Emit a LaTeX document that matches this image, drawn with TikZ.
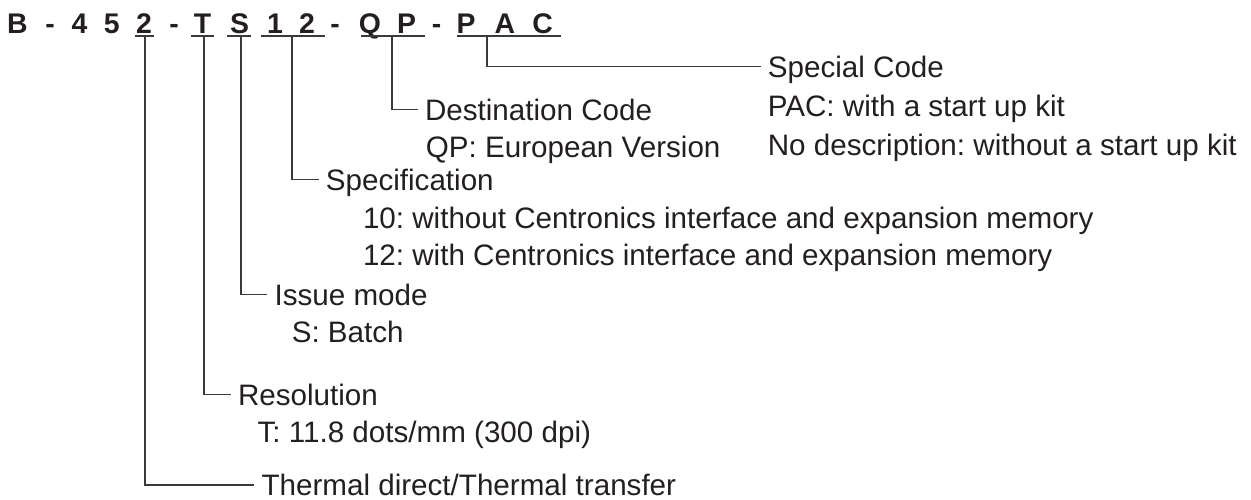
\documentclass[tikz,border=0pt]{standalone}
\usepackage{fontspec}
\setmainfont{Liberation Sans}
\frenchspacing
\definecolor{ink}{HTML}{231F20}
\definecolor{wirec}{HTML}{3A3A3A}
\begin{document}
\begin{tikzpicture}[x=1pt,y=-1pt,
  title/.style={font=\fontsize{28.4}{34}\selectfont\bfseries, text=ink, inner sep=0pt, anchor=base},
  head/.style={font=\fontsize{29.6}{34}\selectfont, text=ink, anchor=base west, inner xsep=7pt, inner ysep=0pt, text height=21.2pt, text depth=0pt},
  desc/.style={font=\fontsize{29.6}{34}\selectfont, text=ink, anchor=base west, inner sep=0pt},
  wire/.style={draw=wirec, line width=1.25pt},
  uline/.style={draw=wirec, line width=1.25pt}]
\useasboundingbox (0,0) rectangle (1251,499);
% title code
\node[title] (gB)  at (17.5,33) {B};
\node[title] (gd1) at (50,33) {-};
\node[title] (g4)  at (79.5,33) {4};
\node[title] (g5)  at (111.7,33) {5};
\node[title] (g2)  at (144,33) {2};
\node[title] (gd2) at (174,33) {-};
\node[title] (gT)  at (202.5,33) {T};
\node[title] (gS)  at (239.5,33) {S};
\node[title] (g1)  at (275,33) {1};
\node[title] (g2b) at (307,33) {2};
\node[title] (gd3) at (335,33) {-};
\node[title] (gQ)  at (370,33) {Q};
\node[title] (gP)  at (406.5,33) {P};
\node[title] (gd4) at (436.5,33) {-};
\node[title] (gP2) at (466,33) {P};
\node[title] (gA)  at (505,33) {A};
\node[title] (gC)  at (542.5,33) {C};
% underlines
\coordinate (ua1) at (135,36);   \coordinate (ua2) at (154,36);
\coordinate (ub1) at (191,36);   \coordinate (ub2) at (214,36);
\coordinate (uc1) at (227,36);   \coordinate (uc2) at (251,36);
\coordinate (ud1) at (261,36);   \coordinate (ud2) at (325,36);
\coordinate (ue1) at (361,36);   \coordinate (ue2) at (425,36);
\coordinate (uf1) at (457,36);   \coordinate (uf2) at (561,36);
\draw[uline] (ua1) -- (ua2);
\draw[uline] (ub1) -- (ub2);
\draw[uline] (uc1) -- (uc2);
\draw[uline] (ud1) -- (ud2);
\draw[uline] (ue1) -- (ue2);
\draw[uline] (uf1) -- (uf2);
% connector roots
\coordinate (ra) at (145,36);
\coordinate (rb) at (204,36);
\coordinate (rc) at (241,36);
\coordinate (rd) at (292,36);
\coordinate (re) at (392,36);
\coordinate (rf) at (487,36);
% headings
\node[head] (special) at (760.7,77) {Special Code};
\node[head] (dest)    at (417.8,120) {Destination Code};
\node[head] (spec)    at (318.7,190) {Specification};
\node[head] (issue)   at (267.4,305) {Issue mode};
\node[head] (resol)   at (230.8,405) {Resolution};
\node[head] (therm)   at (254.4,495.5) {Thermal direct/Thermal transfer};
% descriptions
\node[desc] (pac)  at (767.6,116) {PAC: with a start up kit};
\node[desc] (nod)  at (767.6,155) {No description: without a start up kit};
\node[desc] (qp)   at (425.7,157) {QP: European Version};
\node[desc] (s10)  at (362.8,228) {10: without Centronics interface and expansion memory};
\node[desc] (s12)  at (362.8,265) {12: with Centronics interface and expansion memory};
\node[desc] (sb)   at (291.6,342) {S: Batch};
\node[desc] (tres) at (257.4,442) {T: 11.8 dots/mm (300 dpi)};
% connectors
\draw[wire] (rf) |- (special.west);
\draw[wire] (re) |- (dest.west);
\draw[wire] (rd) |- (spec.west);
\draw[wire] (rc) |- (issue.west);
\draw[wire] (rb) |- (resol.west);
\draw[wire] (ra) |- (therm.west);
\end{tikzpicture}
\end{document}
